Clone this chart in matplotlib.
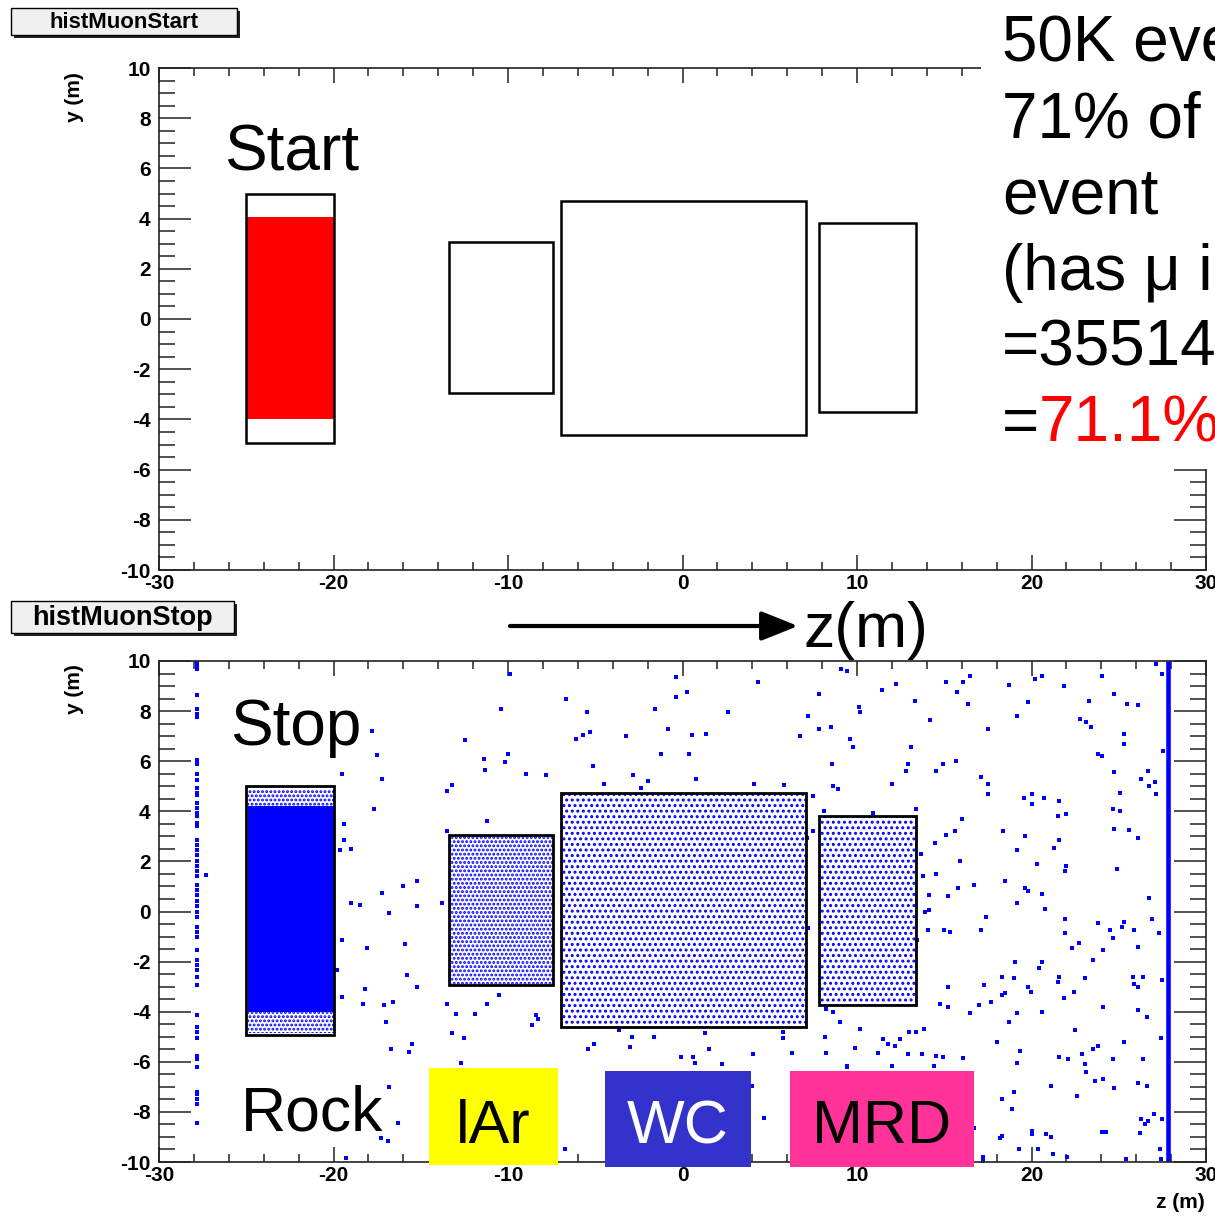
import matplotlib.pyplot as plt
import numpy as np
from matplotlib.patches import Rectangle

plt.rcParams['font.family'] = ['Liberation Sans', 'DejaVu Sans']
plt.rcParams['hatch.linewidth'] = 1.4

# detector outlines (z range, y range) in metres: Rock, lAr, WC, MRD
det_z0 = [-25.0, -13.4, -6.95, 7.85]
det_z1 = [-20.0, -7.4, 7.1, 13.4]
det_y0 = [-4.95, -2.95, -4.62, -3.72]
det_y1 = [5.0, 3.05, 4.72, 3.82]

# muon start points: solid band inside the rock
start_z = [-25.0, -20.0]
start_y = [-4.0, 4.05]

# muon stop points: solid core in the rock, speckled edge above/below
stop_core_z = [-24.9, -20.0]
stop_core_y = [-4.0, 4.2]
stop_edge_y = [-4.85, 4.85]

# stops inside lAr / WC / MRD, shown as dot texture
det_dots = ['', '....', '...', '...']

# sparse stops outside the detectors (z, y)
stops_upstream = [
    (-17.8, 7.2), (-17.5, 6.25), (-19.5, 5.5), (-17.2, 5.3), (-17.7, 4.1),
    (-13.2, 5.05), (-13.5, 4.8), (-19.4, 3.5), (-19.4, 2.85), (-19.6, 2.45),
    (-19.0, 2.5), (-11.2, 3.6), (-13.5, 3.2), (-15.2, 1.2), (-16.0, 1.0),
    (-17.2, 0.75), (-19.0, 0.35), (-18.5, 0.25), (-15.2, 0.2), (-16.8, -0.05),
    (-13.8, 0.35), (-19.5, -1.15), (-18.1, -1.45), (-15.9, -1.3), (-19.8, -2.35),
    (-15.8, -2.55), (-15.2, -3.0), (-18.2, -3.1), (-19.5, -3.4), (-18.3, -3.7),
    (-17.1, -3.75), (-16.6, -3.6), (-17.0, -4.4), (-13.5, -3.7), (-13.0, -4.1),
    (-11.9, -4.1), (-11.2, -3.7), (-10.5, -3.35), (-13.2, -4.85), (-12.5, -5.05),
    (-15.5, -5.3), (-16.7, -5.5), (-15.7, -5.6), (-12.7, -6.05), (-8.6, -4.55),
    (-8.3, -4.3), (-8.4, -4.15), (-27.3, 1.45),
]
stops_top = [
    (-9.9, 9.5), (-0.35, 9.35), (4.35, 9.15), (0.25, 8.75), (-0.4, 8.55),
    (-6.65, 8.5), (-10.4, 8.1), (-5.5, 7.95), (-1.55, 8.1), (2.6, 7.95),
    (7.2, 7.8), (7.85, 8.7), (7.85, 7.3), (-0.85, 7.3), (-12.45, 6.85),
    (-6.1, 6.9), (-5.7, 7.05), (-5.3, 7.15), (-3.25, 7.0), (0.55, 7.05),
    (1.35, 7.1), (6.75, 7.0), (-11.4, 6.1), (-10.0, 6.3), (-10.15, 5.95),
    (-1.25, 6.3), (0.35, 6.3), (-11.3, 5.65), (-8.95, 5.5), (-7.85, 5.45),
    (-5.15, 5.8), (-2.85, 5.45), (-1.95, 5.2), (0.75, 5.3), (4.1, 5.1),
    (5.8, 5.05), (-4.5, 5.1), (-2.4, 4.95), (7.5, 4.6),
]
stops_mrd = [
    (9.1, 9.7), (9.4, 9.6), (8.5, 7.35), (10.1, 8.15), (10.15, 7.95),
    (9.6, 6.9), (9.75, 6.55), (12.25, 9.1), (11.45, 8.85), (13.35, 8.4),
    (14.2, 7.65), (13.1, 6.55), (12.9, 5.9), (12.8, 5.6), (12.0, 5.1),
    (8.55, 5.9), (8.65, 5.0), (8.9, 4.9), (15.1, 9.15), (16.05, 9.15),
    (16.45, 9.4), (15.75, 8.75), (16.35, 8.3), (17.5, 7.3), (18.7, 9.05),
    (14.9, 5.9), (14.5, 5.6), (15.65, 6.0), (17.1, 5.35), (17.5, 5.1),
    (17.5, 4.7), (8.1, 4.0), (10.9, 3.95), (13.4, 4.1), (16.0, 3.7),
    (15.6, 3.2), (15.1, 3.05), (14.45, 2.75), (18.35, 3.2), (13.65, 2.3),
    (15.9, 2.0), (14.5, 1.5), (13.8, 1.4), (16.7, 1.05), (18.5, 1.2),
    (15.8, 0.95), (14.1, 0.65), (15.2, 0.6), (14.1, 0.05), (13.9, 0.0),
    (17.4, -0.2), (14.05, -0.75), (15.0, -0.75), (15.35, -0.8), (17.1, -0.75),
    (13.45, -1.15), (18.3, -2.6), (17.25, -2.95), (15.2, -3.0), (18.5, -3.25),
    (18.3, -3.35), (17.7, -3.6), (17.0, -3.75), (16.45, -4.05), (14.75, -3.7),
    (15.2, -3.8), (18.7, -4.4), (8.2, -3.9), (8.65, -4.0), (9.0, -4.4),
    (10.15, -4.7), (8.15, -5.0), (9.9, -5.45), (8.25, -5.65), (11.2, -5.65),
    (11.5, -5.1), (11.8, -5.3), (12.2, -5.35), (12.45, -5.1), (13.0, -4.8),
    (13.4, -4.8), (13.85, -4.7), (12.95, -5.7), (13.75, -5.7), (14.5, -5.75),
    (14.9, -5.8), (16.05, -5.85), (18.05, -5.2), (9.4, -6.15), (12.0, -6.15),
    (14.4, -6.15), (6.3, -5.65), (7.45, 3.2), (7.15, 2.95), (7.2, -0.65),
]
stops_below = [
    (-16.8, -7.0), (-16.3, -8.45), (-17.3, -9.05), (-16.85, -9.15), (-19.3, -9.85),
    (-6.75, -9.5), (-3.65, -4.75), (-2.9, -5.0), (-1.65, -5.0), (-3.0, -5.4),
    (-5.05, -5.3), (-5.4, -5.5), (1.3, -4.85), (1.5, -5.5), (-0.1, -5.8),
    (0.6, -5.8), (0.7, -6.05), (2.25, -6.1), (4.05, -5.7), (4.0, -6.95),
    (5.75, -4.8), (5.75, -5.05), (6.25, -5.65), (4.65, -8.25), (-4.35, -8.2),
    (9.45, -6.2), (16.7, -8.65), (17.2, -9.8), (18.2, -9.05),
]
stops_downstream = [
    (19.15, 7.8), (19.8, 8.35), (20.2, 9.3), (20.6, 9.4), (21.85, 9.0),
    (24.05, 9.4), (24.75, 8.7), (23.3, 8.4), (25.5, 8.3), (26.1, 8.25),
    (27.15, 9.9), (27.45, 9.5), (22.8, 7.7), (23.15, 7.55), (23.4, 7.35),
    (25.3, 7.1), (25.3, 6.7), (23.8, 6.3), (24.05, 6.2), (27.55, 6.4),
    (24.75, 5.55), (26.65, 5.6), (26.25, 5.3), (27.1, 5.15), (26.75, 5.0),
    (27.15, 4.7), (19.55, 4.55), (20.0, 4.7), (20.7, 4.55), (20.0, 4.3),
    (21.6, 4.4), (25.1, 4.75), (21.5, 3.8), (21.95, 3.9), (24.65, 4.1),
    (25.1, 4.0), (19.65, 3.0), (21.6, 2.85), (21.3, 2.55), (19.15, 2.45),
    (24.75, 3.3), (25.6, 3.25), (26.1, 2.95), (20.3, 1.9), (22.0, 1.8),
    (21.9, 1.6), (24.9, 1.7), (19.6, 0.95), (19.8, 0.8), (20.6, 0.7),
    (19.15, 0.35), (26.75, 0.55), (20.75, 0.1), (21.9, -0.3), (21.9, -0.85),
    (23.8, -0.45), (24.5, -0.75), (25.3, -0.4), (25.2, -0.6), (24.65, -1.05),
    (25.85, -0.75), (26.9, -0.3), (27.3, -0.85), (22.75, -1.25), (22.3, -1.45),
    (24.1, -1.55), (26.1, -1.4), (23.55, -1.95), (19.05, -2.0), (20.6, -2.0),
    (20.45, -2.25), (19.0, -2.65), (21.6, -2.6), (21.5, -2.8), (23.05, -2.65),
    (25.8, -2.6), (26.4, -2.6), (25.85, -2.9), (26.1, -3.0), (27.5, -2.75),
    (19.8, -3.0), (19.95, -3.2), (22.45, -3.2), (21.85, -3.45), (19.15, -4.05),
    (20.6, -4.0), (24.1, -3.8), (26.1, -3.95), (26.6, -4.2), (27.4, -5.05),
    (22.5, -4.75), (25.3, -5.2), (19.35, -5.55), (19.15, -6.05), (21.6, -5.8),
    (22.1, -5.9), (23.05, -6.1), (23.15, -6.4), (22.9, -5.7), (23.5, -5.5),
    (23.8, -5.35), (24.65, -5.9), (26.4, -5.9), (23.65, -6.75), (24.1, -6.7),
    (24.75, -7.05), (26.1, -6.85), (26.6, -6.95), (21.1, -6.95), (22.6, -7.35),
    (19.0, -7.2), (18.3, -7.5), (18.9, -7.9), (26.25, -8.3), (26.5, -8.5),
    (26.7, -8.35), (27.0, -8.1), (27.5, -8.3), (26.2, -8.85), (20.0, -8.75),
    (20.0, -8.9), (20.85, -8.9), (21.1, -9.0), (24.05, -8.8), (24.25, -8.8),
    (18.3, -8.95), (19.3, -9.5), (20.4, -9.5), (21.25, -9.7), (22.05, -9.8),
    (17.2, -9.95), (25.4, -9.9), (27.35, -9.5), (27.4, -9.9),
]

# upstream column of stops near z = -27.8 and the dense wall at z = 27.8
col_z = -27.8
col_y = [9.95, 9.85, 9.7, 8.65, 8.1, 7.9, 7.75, 6.05, 5.9, 5.5, 5.25, 4.95,
         4.75, 4.65, 4.35, 4.15, 3.95, 3.8, 3.55, 3.4, 2.85, 2.65, 2.45, 2.25,
         2.0, 1.8, 1.6, 1.4, 1.05, 0.85, 0.65, 0.4, 0.2, 0.0, -0.2, -0.6, -0.8,
         -1.0, -1.55, -1.95, -2.15, -2.35, -2.6, -2.95, -4.15, -4.6, -4.8,
         -5.05, -5.75, -5.9, -6.2, -7.2, -7.3, -7.5, -7.7, -8.45]
wall_z = [27.8, 27.8]
wall_y = [-10.0, 10.0]

x_ticks = [-30, -20, -10, 0, 10, 20, 30]
y_ticks = [-10, -8, -6, -4, -2, 0, 2, 4, 6, 8, 10]

W, H = 1215, 1217
fig = plt.figure(figsize=(W / 100, H / 100), dpi=100)


def fx(x):
    return x / W


def fy(y):
    return 1 - y / H


ax1 = fig.add_axes([fx(159), fy(570), fx(1206) - fx(159), fy(68) - fy(570)])
ax2 = fig.add_axes([fx(159), fy(1162), fx(1206) - fx(159), fy(661) - fy(1162)])

frame_col = '#222222'
for ax in (ax1, ax2):
    ax.set_xlim(-30, 30)
    ax.set_ylim(-10, 10)
    ax.set_xticks(x_ticks)
    ax.set_xticklabels([str(t) for t in x_ticks], fontweight='bold', fontsize=15)
    ax.set_yticks(y_ticks)
    ax.set_yticklabels([str(t) for t in y_ticks], fontweight='bold', fontsize=15)
    ax.set_xticks(np.arange(-30, 31, 2), minor=True)
    ax.set_yticks(np.arange(-10, 10.1, 0.5), minor=True)
    ax.tick_params(axis='x', which='major', direction='in', length=11, width=1.1,
                   top=True, pad=3, color=frame_col)
    ax.tick_params(axis='x', which='minor', direction='in', length=5.5, width=1.1,
                   top=True, color=frame_col)
    ax.tick_params(axis='y', which='major', direction='in', length=23, width=1.1,
                   right=True, pad=6, color=frame_col)
    ax.tick_params(axis='y', which='minor', direction='in', length=11.5, width=1.1,
                   right=True, color=frame_col)
    for s in ax.spines.values():
        s.set_linewidth(1.2)
        s.set_color(frame_col)

# top panel: muon start
ax1.fill_between(start_z, start_y[0], start_y[1], color='red', lw=0, zorder=2)

# bottom panel: muon stop
ax2.fill_between(stop_core_z, stop_core_y[0], stop_core_y[1], color='blue', lw=0, zorder=2)
ax2.add_patch(Rectangle((stop_core_z[0], stop_core_y[1]), stop_core_z[1] - stop_core_z[0],
                        stop_edge_y[1] - stop_core_y[1], facecolor='none', edgecolor='blue',
                        lw=0, hatch='....', zorder=2))
ax2.add_patch(Rectangle((stop_core_z[0], stop_edge_y[0]), stop_core_z[1] - stop_core_z[0],
                        stop_core_y[0] - stop_edge_y[0], facecolor='none', edgecolor='blue',
                        lw=0, hatch='....', zorder=2))
for z0, z1, y0, y1, h in zip(det_z0, det_z1, det_y0, det_y1, det_dots):
    if h:
        ax2.add_patch(Rectangle((z0, y0), z1 - z0, y1 - y0, facecolor='none',
                                edgecolor='blue', lw=0, hatch=h, zorder=2))

for grp in (stops_upstream, stops_top, stops_mrd, stops_below, stops_downstream):
    pts = np.array(grp)
    ax2.plot(pts[:, 0], pts[:, 1], ls='none', marker='s', ms=2.4, mew=0,
             color='blue', zorder=2)
ax2.plot([col_z] * len(col_y), col_y, ls='none', marker='s', ms=2.4, mew=0,
         color='blue', zorder=2)
ax2.plot(wall_z, wall_y, color='blue', lw=3.3, solid_capstyle='butt', zorder=2)

# detector outlines
for ax, lw in ((ax1, 1.8), (ax2, 2.0)):
    for z0, z1, y0, y1 in zip(det_z0, det_z1, det_y0, det_y1):
        ax.add_patch(Rectangle((z0, y0), z1 - z0, y1 - y0, facecolor='none',
                               edgecolor='black', lw=lw, zorder=3))

# big in-plot labels
ax1.text(-26.25, 5.9, 'Start', fontsize=46, ha='left', va='baseline', zorder=4)
ax2.text(-25.95, 6.65, 'Stop', fontsize=46, ha='left', va='baseline', zorder=4)
ax2.text(-25.3, -8.75, 'Rock', fontsize=45, ha='left', va='baseline', zorder=4)

label_names = ['lAr', 'WC', 'MRD']
label_z0 = [-14.55, -4.45, 6.15]
label_z1 = [-7.15, 3.9, 16.7]
label_y0 = [-10.12, -10.2, -10.2]
label_y1 = [-6.25, -6.37, -6.37]
label_bg = ['#ffff00', '#3333cc', '#ff3399']
label_fg = ['black', 'white', 'black']
for n, z0, z1, y0, y1, bg, fg in zip(label_names, label_z0, label_z1, label_y0,
                                     label_y1, label_bg, label_fg):
    ax2.add_patch(Rectangle((z0, y0), z1 - z0, y1 - y0, facecolor=bg, edgecolor='none',
                            clip_on=False, zorder=5))
    ax2.text((z0 + z1) / 2, -9.25, n, fontsize=44, color=fg, ha='center',
             va='baseline', zorder=6, clip_on=False)

# axis titles
fig.text(fx(75), fy(97), 'y (m)', rotation=90, fontsize=15, fontweight='bold',
         ha='center', va='center')
fig.text(fx(75), fy(689), 'y (m)', rotation=90, fontsize=15, fontweight='bold',
         ha='center', va='center')
fig.text(fx(1205), fy(1203), 'z (m)', fontsize=15, fontweight='bold',
         ha='right', va='center')

# histogram name boxes with ROOT-like shadow
for (x0, y0, x1, y1, name, fs) in ((11, 8, 237, 35, 'histMuonStart', 16),
                                   (11, 601, 234, 633, 'histMuonStop', 19.5)):
    fig.add_artist(Rectangle((fx(x0 + 3), fy(y1 + 3)), fx(x1 - x0), fy(y0) - fy(y1),
                             transform=fig.transFigure, facecolor='#222222',
                             edgecolor='none', zorder=4))
    fig.add_artist(Rectangle((fx(x0), fy(y1)), fx(x1 - x0), fy(y0) - fy(y1),
                             transform=fig.transFigure, facecolor='#f0f0f0',
                             edgecolor='black', lw=1, zorder=5))
    fig.text(fx((x0 + x1) / 2), fy((y0 + y1) / 2 + 1), name, fontsize=fs,
             fontweight='bold', ha='center', va='center', zorder=6)

# beam direction arrow
ax2.annotate('', xy=(fx(798), fy(626)), xytext=(fx(510), fy(626)),
             xycoords='figure fraction', textcoords='figure fraction',
             annotation_clip=False,
             arrowprops=dict(arrowstyle='-|>,head_length=0.75,head_width=0.3',
                             mutation_scale=30, lw=3, color='black',
                             shrinkA=0, shrinkB=0))
fig.text(fx(803), fy(647), 'z(m)', fontsize=45, ha='left', va='baseline')

# summary note in the top-right corner
fig.add_artist(Rectangle((fx(981), fy(469)), 1 - fx(981), fy(0) - fy(469),
                         transform=fig.transFigure, facecolor='white',
                         edgecolor='none', zorder=7))
note_lines = ['50K eve', '71% of', 'event', '(has \u03bc i', '=35514']
note_base = [62, 138, 214, 290, 366]
for s, b in zip(note_lines, note_base):
    fig.text(fx(1002), fy(b), s, fontsize=46, ha='left', va='baseline', zorder=8)
fig.text(fx(1002), fy(442), '=', fontsize=46, ha='left', va='baseline', zorder=8)
fig.text(fx(1039), fy(442), '71.1%', fontsize=46, color='red', ha='left',
         va='baseline', zorder=8)

fig.savefig('out.png', dpi=100)
